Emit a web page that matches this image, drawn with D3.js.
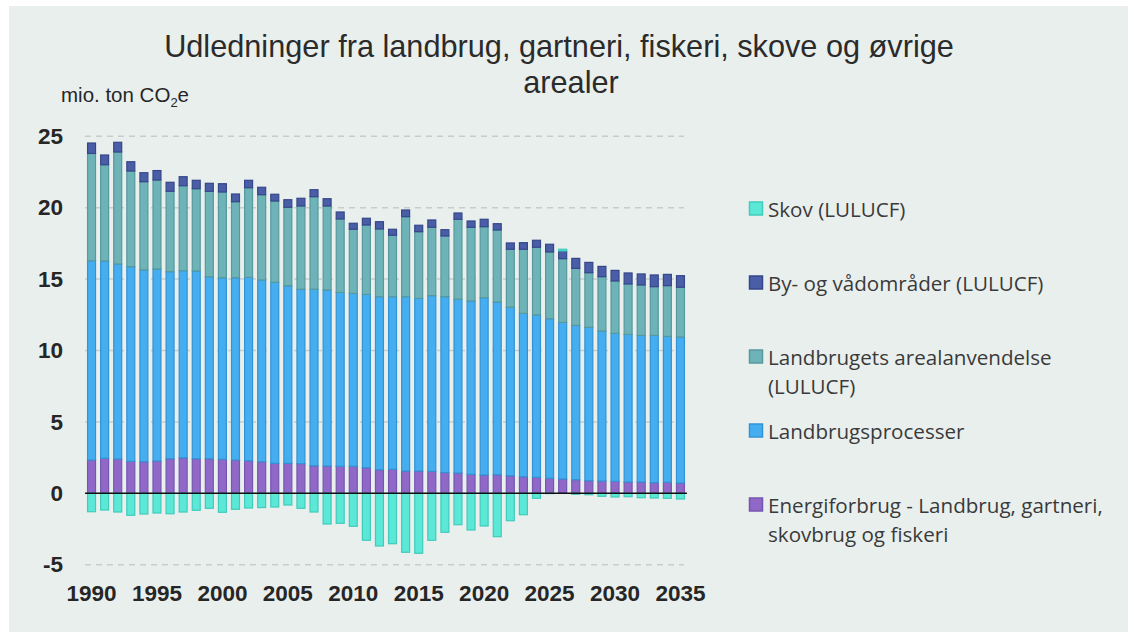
<!DOCTYPE html>
<html>
<head>
<meta charset="utf-8">
<script src="https://cdn.jsdelivr.net/npm/d3@7"></script>
<style>
  html, body { margin: 0; padding: 0; background: #ffffff; }
  svg { display: block; }
</style>
</head>
<body>
<svg id="chart" width="1128" height="632"></svg>
<script>
// ---- data (mio. ton CO2e) ----
const years = d3.range(1990, 2036);
const energi = [2.33,2.45,2.40,2.24,2.21,2.26,2.42,2.49,2.42,2.42,2.38,2.33,2.28,2.21,2.10,2.10,2.08,1.93,1.91,1.89,1.89,1.79,1.65,1.68,1.56,1.56,1.54,1.45,1.42,1.33,1.28,1.30,1.23,1.16,1.12,1.05,1.00,0.95,0.88,0.86,0.84,0.79,0.79,0.74,0.77,0.72];
const processer = [13.96,13.82,13.66,13.63,13.43,13.45,13.10,13.10,13.15,12.75,12.72,12.77,12.84,12.73,12.68,12.44,12.21,12.36,12.33,12.18,12.11,12.14,12.12,12.09,12.21,12.09,12.30,12.32,12.17,12.14,12.42,12.10,11.80,11.44,11.37,11.18,10.97,10.81,10.74,10.50,10.36,10.34,10.27,10.32,10.22,10.23];
const areal = [7.51,6.74,7.84,6.70,6.18,6.23,5.63,5.95,5.76,5.98,6.00,5.32,6.28,5.97,5.69,5.49,5.83,6.48,5.88,5.14,4.49,4.86,4.74,4.30,5.60,4.67,4.79,4.25,5.60,5.16,4.97,5.04,4.06,4.49,4.74,4.67,4.46,3.99,3.83,3.81,3.67,3.53,3.53,3.41,3.55,3.48];
const byVaad = [0.73,0.68,0.68,0.65,0.63,0.66,0.63,0.63,0.59,0.56,0.58,0.54,0.52,0.52,0.47,0.53,0.54,0.49,0.51,0.49,0.42,0.47,0.51,0.42,0.47,0.45,0.51,0.44,0.44,0.44,0.52,0.44,0.44,0.46,0.49,0.54,0.54,0.70,0.72,0.72,0.74,0.77,0.77,0.82,0.79,0.81];
const skov = [-1.29,-1.17,-1.31,-1.54,-1.45,-1.38,-1.43,-1.31,-1.19,-1.05,-1.33,-1.12,-1.03,-1.00,-0.96,-0.82,-1.05,-1.31,-2.15,-2.10,-2.31,-3.29,-3.69,-3.53,-4.13,-4.20,-3.29,-2.73,-2.20,-2.57,-2.29,-3.04,-1.92,-1.50,-0.35,-0.02,0.12,-0.07,-0.10,-0.21,-0.26,-0.24,-0.31,-0.33,-0.35,-0.40];

const seriesKeys = ["energi", "processer", "areal", "byVaad", "skov"];
const seriesNames = {
  skov: ["Skov (LULUCF)"],
  byVaad: ["By- og vådområder (LULUCF)"],
  areal: ["Landbrugets arealanvendelse", "(LULUCF)"],
  processer: ["Landbrugsprocesser"],
  energi: ["Energiforbrug - Landbrug, gartneri,", "skovbrug og fiskeri"]
};
const legendOrder = ["skov", "byVaad", "areal", "processer", "energi"];
const yTicks = [-5, 0, 5, 10, 15, 20, 25];
const xTickYears = [1990, 1995, 2000, 2005, 2010, 2015, 2020, 2025, 2030, 2035];
const titleLines = ["Udledninger fra landbrug, gartneri, fiskeri, skove og øvrige", "arealer"];

const fills = { skov: "#5ce8d6", byVaad: "#4a5ea8", areal: "#6db3b7", processer: "#45aef0", energi: "#9068c8" };
const strokes = { skov: "#40cbbb", byVaad: "#364789", areal: "#58999d", processer: "#3393d3", energi: "#7656b0" };

const table = years.map((yr, i) => ({
  year: yr, energi: energi[i], processer: processer[i], areal: areal[i], byVaad: byVaad[i], skov: skov[i]
}));

const svg = d3.select("#chart");
svg.append("rect").attr("x", 9).attr("y", 6).attr("width", 1119).attr("height", 626).attr("fill", "#e9efed");

const x = d3.scaleBand().domain(years).range([85, 687]).paddingInner(0.3).paddingOuter(0.15);
const y = d3.scaleLinear().domain([-5, 25]).range([564.7, 136.3]);

// grid lines
svg.append("g").selectAll("line").data(yTicks.filter(t => t !== 0)).join("line")
  .attr("x1", 85).attr("x2", 684)
  .attr("y1", d => y(d)).attr("y2", d => y(d))
  .attr("stroke", "#c9cccb").attr("stroke-width", 1.5).attr("stroke-dasharray", "6,5");

// stacked bars
const stack = d3.stack().keys(seriesKeys).offset(d3.stackOffsetDiverging);
const stacked = stack(table);
const gBars = svg.append("g");
stacked.forEach(layer => {
  gBars.append("g").selectAll("rect").data(layer).join("rect")
    .attr("x", d => x(d.data.year) + 0.6)
    .attr("width", x.bandwidth() - 1.2)
    .attr("y", d => y(Math.max(d[0], d[1])))
    .attr("height", d => Math.abs(y(d[0]) - y(d[1])))
    .attr("fill", fills[layer.key])
    .attr("stroke", strokes[layer.key])
    .attr("stroke-width", 1.2);
});

// zero line
svg.append("line").attr("x1", 85).attr("x2", 687).attr("y1", y(0)).attr("y2", y(0))
  .attr("stroke", "#111").attr("stroke-width", 1.6);

// y axis
const yAxis = svg.append("g").attr("transform", "translate(63,0)")
  .call(d3.axisLeft(y).tickValues(yTicks).tickSize(0).tickPadding(0).tickFormat(d => String(d)));
yAxis.select(".domain").remove();
yAxis.selectAll("text").attr("font-family", "Liberation Sans, Arial, sans-serif")
  .attr("font-size", 22.5).attr("font-weight", "bold").attr("fill", "#262626");

// x axis
const xAxis = svg.append("g").attr("transform", "translate(0,577)")
  .call(d3.axisBottom(x).tickValues(xTickYears).tickSize(0).tickPadding(8));
xAxis.select(".domain").remove();
xAxis.selectAll("text").attr("font-family", "Liberation Sans, Arial, sans-serif")
  .attr("font-size", 22.5).attr("font-weight", "bold").attr("fill", "#262626");

// title
const titleX = [559, 571];
titleLines.forEach((t, i) => {
  svg.append("text").attr("x", titleX[i]).attr("y", 57 + i * 36).attr("text-anchor", "middle")
    .attr("font-family", "Liberation Sans, Arial, sans-serif").attr("font-size", 30.7)
    .attr("fill", "#2b2b2b").text(t);
});

// unit label
const unit = svg.append("text").attr("x", 61).attr("y", 102)
  .attr("font-family", "Liberation Sans, Arial, sans-serif").attr("font-size", 20.5).attr("fill", "#262626");
unit.append("tspan").text("mio. ton CO");
unit.append("tspan").attr("font-size", 13).attr("dy", 5).text("2");
unit.append("tspan").attr("dy", -5).text("e");

// legend
const legendY = { skov: 209, byVaad: 283, areal: 357, processer: 431, energi: 505 };
legendOrder.forEach(k => {
  const cy = legendY[k];
  svg.append("rect").attr("x", 749.5).attr("y", cy - 7).attr("width", 13).attr("height", 13)
    .attr("fill", fills[k]).attr("stroke", strokes[k]).attr("stroke-width", 1.5);
  seriesNames[k].forEach((line, j) => {
    svg.append("text").attr("x", 768).attr("y", cy + j * 29).attr("dominant-baseline", "central")
      .attr("font-family", "Open Sans, sans-serif").attr("font-size", 20.6).attr("fill", "#3a3a3a").text(line);
  });
});
</script>
</body>
</html>
